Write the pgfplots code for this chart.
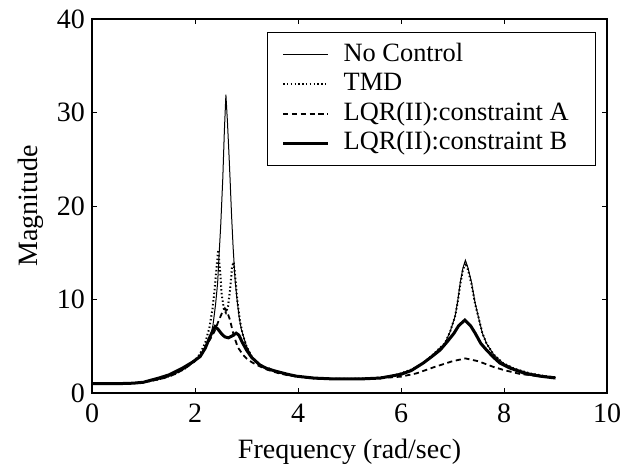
\documentclass[border=0pt]{standalone}
\usepackage{fontspec}
\setmainfont{Liberation Serif}
\usepackage{pgfplots}
\pgfplotsset{compat=1.18}

\newcommand{\figfont}{\fontsize{14bp}{16bp}\selectfont}
\newcommand{\legfont}{\fontsize{13.2bp}{15bp}\selectfont}

\begin{document}
\begin{tikzpicture}
\begin{axis}[
  at={(0,0)}, anchor=south west,
  scale only axis,
  width=257.5bp, height=187bp,
  xmin=0, xmax=10, ymin=0, ymax=40,
  xtick={0,2,...,10}, ytick={0,10,...,40},
  tick pos=both, tick align=inside,
  major tick length=2.5bp,
  axis line style={line width=0.7bp},
  every tick/.style={black, line width=0.5bp},
  /pgf/number format/assume math mode=true,
  tick label style={font=\figfont},
  xticklabel style={yshift=-2bp},
  label style={font=\figfont},
  xlabel={Frequency (rad/sec)},
  ylabel={Magnitude},
  xlabel style={yshift=-1bp},
  legend style={
    at={(rel axis cs:0.979,0.966)}, anchor=north east,
    font=\legfont, draw=black, line width=0.5bp,
    inner xsep=7bp, inner ysep=4bp, row sep=0bp,
    nodes={inner xsep=0bp, inner ysep=0.5bp, text height=10bp, text depth=3.7bp},
    cells={anchor=west},
  },
  legend image code/.code={
    \path (0bp,0bp) (29.5bp,0bp);
    \draw[#1] (0bp,0bp) -- (22.5bp,0bp);},
]
% no control
\addplot[black, line width=0.5bp] coordinates {
 (0,1.0) (0.5,1.0) (0.8,1.05) (1.0,1.15) (1.2,1.35) (1.4,1.6) (1.6,2.0)
 (1.8,2.6) (2.0,3.4) (2.1,4.0) (2.2,4.9) (2.3,6.0) (2.35,7.3) (2.4,9.5)
 (2.44,11.8) (2.47,15) (2.5,18) (2.54,23) (2.57,28) (2.6,31.9) (2.63,29)
 (2.66,25.5) (2.68,23) (2.71,19) (2.74,15.6) (2.78,12) (2.82,9.8) (2.86,8.0)
 (2.9,6.8) (3.0,5.0) (3.1,3.9) (3.2,3.2) (3.3,2.8) (3.46,2.6) (3.6,2.2)
 (3.84,1.9) (4.0,1.75) (4.23,1.6) (4.5,1.5) (5.0,1.5) (5.5,1.6) (5.8,1.8)
 (6.0,2.1) (6.2,2.5) (6.43,3.2) (6.6,4.0) (6.85,5.3) (6.95,6.5) (7.05,8.2)
 (7.1,9.8) (7.15,11.8) (7.2,13.3) (7.25,14.2) (7.3,13.4) (7.37,11.8)
 (7.44,9.6) (7.5,8.2) (7.58,6.4) (7.66,5.3) (7.8,4.1) (7.98,3.2) (8.2,2.6)
 (8.5,2.1) (8.75,1.85) (9.0,1.65)
};
% TMD
\addplot[black, line width=1bp, dash pattern=on 0.7bp off 1.2bp] coordinates {
 (0,1.0) (0.5,1.0) (0.8,1.05) (1.0,1.15) (1.2,1.35) (1.4,1.6) (1.6,2.0)
 (1.8,2.6) (2.0,3.5) (2.1,4.2) (2.2,5.4) (2.28,7.0) (2.34,9.0) (2.38,11.0)
 (2.42,13.5) (2.45,15.3) (2.48,13.5) (2.52,10.5) (2.56,9.0) (2.6,8.6)
 (2.64,9.2) (2.68,11) (2.72,13.5) (2.75,14.0) (2.78,12.5) (2.82,10)
 (2.87,7.8) (2.93,6.2) (3.0,5.0) (3.1,3.9) (3.2,3.2) (3.3,2.8) (3.46,2.6)
 (3.6,2.2) (3.84,1.9) (4.0,1.75) (4.23,1.6) (4.5,1.5) (5.0,1.5) (5.5,1.6)
 (5.8,1.8) (6.0,2.1) (6.2,2.5) (6.43,3.2) (6.6,4.0) (6.85,5.3) (6.95,6.5)
 (7.05,8.2) (7.1,9.7) (7.15,11.6) (7.2,13.1) (7.25,13.9) (7.3,13.2)
 (7.37,11.6) (7.44,9.5) (7.5,8.2) (7.58,6.4) (7.66,5.3) (7.8,4.1)
 (7.98,3.2) (8.2,2.6) (8.5,2.1) (8.75,1.85) (9.0,1.65)
};
% LQR(II) constraint A
\addplot[black, line width=0.9bp, dash pattern=on 2.6bp off 1.8bp] coordinates {
 (0,1.0) (0.5,1.0) (0.8,1.05) (1.0,1.15) (1.2,1.35) (1.4,1.6) (1.6,2.0)
 (1.8,2.6) (2.0,3.4) (2.1,4.0) (2.2,4.9) (2.3,5.8) (2.38,6.6) (2.45,7.6)
 (2.52,8.5) (2.58,9.05) (2.63,8.6) (2.68,7.8) (2.75,6.2) (2.83,4.9)
 (2.93,4.1) (3.0,3.7) (3.1,3.3) (3.2,3.0) (3.4,2.5) (3.6,2.15) (3.8,1.9)
 (4.0,1.75) (4.5,1.55) (5.0,1.5) (5.5,1.55) (6.0,1.75) (6.3,2.1)
 (6.66,2.8) (7.0,3.4) (7.25,3.7) (7.5,3.4) (7.79,2.8) (8.0,2.45) (8.3,2.05)
 (8.6,1.85) (9.0,1.7)
};
% LQR(II) constraint B
\addplot[black, line width=1.5bp] coordinates {
 (0,1.0) (0.5,1.0) (0.8,1.05) (1.0,1.15) (1.13,1.35) (1.3,1.6) (1.5,1.95)
 (1.77,2.7) (1.95,3.3) (2.1,3.9) (2.2,4.8) (2.29,6.0) (2.35,6.7) (2.39,7.1)
 (2.45,6.8) (2.52,6.3) (2.58,6.0) (2.65,5.9) (2.72,6.1) (2.8,6.4) (2.85,6.2)
 (2.92,5.4) (3.0,4.6) (3.1,3.8) (3.26,3.0) (3.4,2.6) (3.59,2.3) (3.8,2.0)
 (3.97,1.8) (4.3,1.6) (4.7,1.5) (5.2,1.5) (5.6,1.6) (6.0,2.0) (6.2,2.4)
 (6.43,3.2) (6.6,3.9) (6.76,4.6) (6.9,5.5) (7.03,6.4) (7.12,7.2) (7.24,7.8)
 (7.35,7.2) (7.44,6.4) (7.55,5.3) (7.66,4.6) (7.8,3.8) (7.92,3.2) (8.1,2.7)
 (8.4,2.1) (8.7,1.8) (9.0,1.6)
};
\legend{No Control, TMD, LQR(II):constraint A\kern6.5bp, LQR(II):constraint B\kern6.5bp}
\end{axis}
\pgfresetboundingbox
\path[use as bounding box] (-46bp,-37bp) rectangle (271.5bp,196.5bp);
\end{tikzpicture}
\end{document}
